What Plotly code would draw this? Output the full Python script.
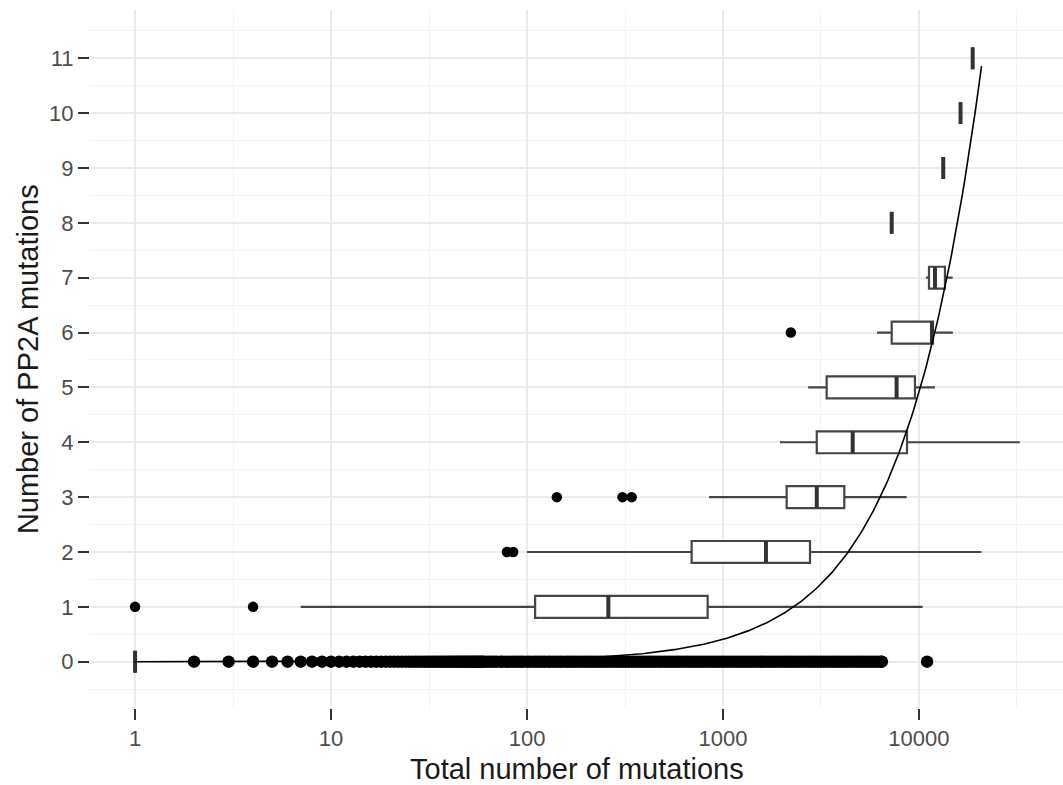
import numpy as np
import plotly.graph_objects as go

# ---------------- data ----------------
rows = [0, 1, 2, 3, 4, 5, 6, 7, 8, 9, 10, 11]
q1 = [1, 110, 692, 2113, 3010, 3380, 7260, 11250, 7260, 13300, 16300, 18800]
medians = [1, 260, 1657, 3010, 4590, 7690, 11650, 12070, 7260, 13300, 16300, 18800]
q3 = [1, 835, 2780, 4160, 8690, 9540, 11790, 13570, 7260, 13300, 16300, 18800]
lower_whisker = [1, 7, 100, 849, 1954, 2720, 6110, 10870, 7260, 13300, 16300, 18800]
upper_whisker = [1, 10440, 20840, 8650, 32700, 12070, 14900, 14860, 7260, 13300, 16300, 18800]

outliers_row0 = [2, 3, 4, 5, 6, 7, 8, 9, 10, 11, 12, 13, 14, 15, 16, 17, 18, 19, 20,
                 21, 22, 23, 24, 25, 26, 27, 28, 29, 30, 31, 32, 33, 34, 35, 36, 37, 38,
                 39, 40, 41, 42, 43, 44, 45, 46, 47, 48, 49, 50, 51, 52, 53, 54, 55, 56,
                 57, 58, 59, 60,
                 62, 64, 66, 68, 70, 73, 75, 78, 81, 84, 87, 90, 93, 96, 100, 103, 107,
                 111, 115, 119, 123, 128, 132, 137, 142, 147, 152, 158, 163, 169, 175,
                 181, 188, 195, 202, 209, 216, 224, 232, 240, 249, 258, 267, 277, 287,
                 297, 308, 319, 330, 342, 354, 367, 380, 394, 408, 422, 437, 453, 469,
                 486, 504, 522, 540, 560, 580, 600, 622, 644, 667, 691, 716, 742, 768,
                 796, 824, 854, 885, 916, 949, 983, 1019, 1055, 1093, 1132, 1173, 1215,
                 1259, 1304, 1351, 1399, 1450, 1502, 1556, 1612, 1670, 1730, 1792, 1856,
                 1923, 1992, 2064, 2138, 2215, 2294, 2377, 2462, 2551, 2642, 2737, 2836,
                 2938, 3043, 3153, 3266, 3384, 3505, 3631, 3762, 3897, 4037, 4182, 4333,
                 4488, 4650, 4817, 4990, 5170, 5355, 5548, 5747, 5954, 6168, 6390, 6470,
                 11000]
outliers_row1 = [1, 4]
outliers_row2 = [79, 85]
outliers_row3 = [142, 307, 342]
outliers_row6 = [2220]

x_tick_values = [1, 10, 100, 1000, 10000]
x_tick_labels = ["1", "10", "100", "1000", "10000"]
x_minor_values = [3.162, 31.62, 316.2, 3162, 31623]
y_tick_values = rows
y_minor_values = [-0.5, 0.5, 1.5, 2.5, 3.5, 4.5, 5.5, 6.5, 7.5, 8.5, 9.5, 10.5, 11.5]

# fitted curve parameters (power fit y = c * x^p)
fit_log_coef = -3.629
fit_power = 1.08
fit_x_max = 20850

# ---------------- figure ----------------
FONT = "Liberation Sans, Arial, sans-serif"
BOX_W = 0.4

fig = go.Figure()

fig.add_trace(go.Box(
    orientation="h",
    y=rows,
    q1=q1, median=medians, q3=q3,
    lowerfence=lower_whisker, upperfence=upper_whisker,
    width=BOX_W,
    whiskerwidth=0,
    fillcolor="white",
    line=dict(color="#454545", width=2.2),
    boxpoints=False,
    hoverinfo="skip",
))

# thicker median bars (ggplot "fatten")
mx, my = [], []
for r, m in zip(rows, medians):
    mx += [m, m, None]
    my += [r - BOX_W / 2, r + BOX_W / 2, None]
fig.add_trace(go.Scatter(x=mx, y=my, mode="lines",
                         line=dict(color="#333333", width=4), hoverinfo="skip"))

# outliers of row 0 (dense band)
fig.add_trace(go.Scatter(x=outliers_row0, y=[0] * len(outliers_row0), mode="markers",
                         marker=dict(color="black", size=12.5, line=dict(width=0)),
                         hoverinfo="skip"))

# other outliers
out_x, out_y = [], []
for r, vals in [(1, outliers_row1), (2, outliers_row2),
                (3, outliers_row3), (6, outliers_row6)]:
    out_x += vals
    out_y += [r] * len(vals)
fig.add_trace(go.Scatter(x=out_x, y=out_y, mode="markers",
                         marker=dict(color="black", size=10.5, line=dict(width=0)),
                         hoverinfo="skip"))

# fitted curve
cx = np.logspace(0, np.log10(fit_x_max), 400)
cy = 10 ** fit_log_coef * cx ** fit_power
fig.add_trace(go.Scatter(x=cx, y=cy, mode="lines",
                         line=dict(color="black", width=1.6), hoverinfo="skip"))

fig.update_layout(
    width=1063, height=785,
    margin=dict(l=90, r=0, t=10, b=77),
    paper_bgcolor="white", plot_bgcolor="white",
    showlegend=False,
    font=dict(family=FONT),
    xaxis=dict(
        type="log", range=[-0.230, 4.735],
        tickvals=x_tick_values, ticktext=x_tick_labels,
        ticks="outside", ticklen=11, tickwidth=2, tickcolor="#333333",
        tickfont=dict(size=22, color="#4d4d4d", family=FONT),
        showgrid=True, gridcolor="#ebebeb", gridwidth=1.6,
        minor=dict(tickvals=x_minor_values, showgrid=True, gridcolor="#f3f3f3",
                   gridwidth=1, ticks=""),
        zeroline=False, showline=False,
    ),
    yaxis=dict(
        range=[-0.844, 11.88],
        tickvals=y_tick_values,
        ticks="outside", ticklen=11, tickwidth=2, tickcolor="#333333",
        tickfont=dict(size=22, color="#4d4d4d", family=FONT),
        showgrid=True, gridcolor="#ebebeb", gridwidth=1.6,
        minor=dict(tickvals=y_minor_values, showgrid=True, gridcolor="#f3f3f3",
                   gridwidth=1, ticks=""),
        zeroline=False, showline=False,
    ),
    annotations=[
        dict(text="Total number of mutations", xref="paper", yref="paper",
             x=0.5, y=-0.088, xanchor="center", yanchor="middle", showarrow=False,
             font=dict(size=29, color="#1a1a1a", family=FONT)),
        dict(text="Number of PP2A mutations", xref="paper", yref="paper",
             x=-0.0636, y=0.5, xanchor="center", yanchor="middle", textangle=-90,
             showarrow=False, font=dict(size=29, color="#1a1a1a", family=FONT)),
    ],
)

fig.write_html("out.html")
